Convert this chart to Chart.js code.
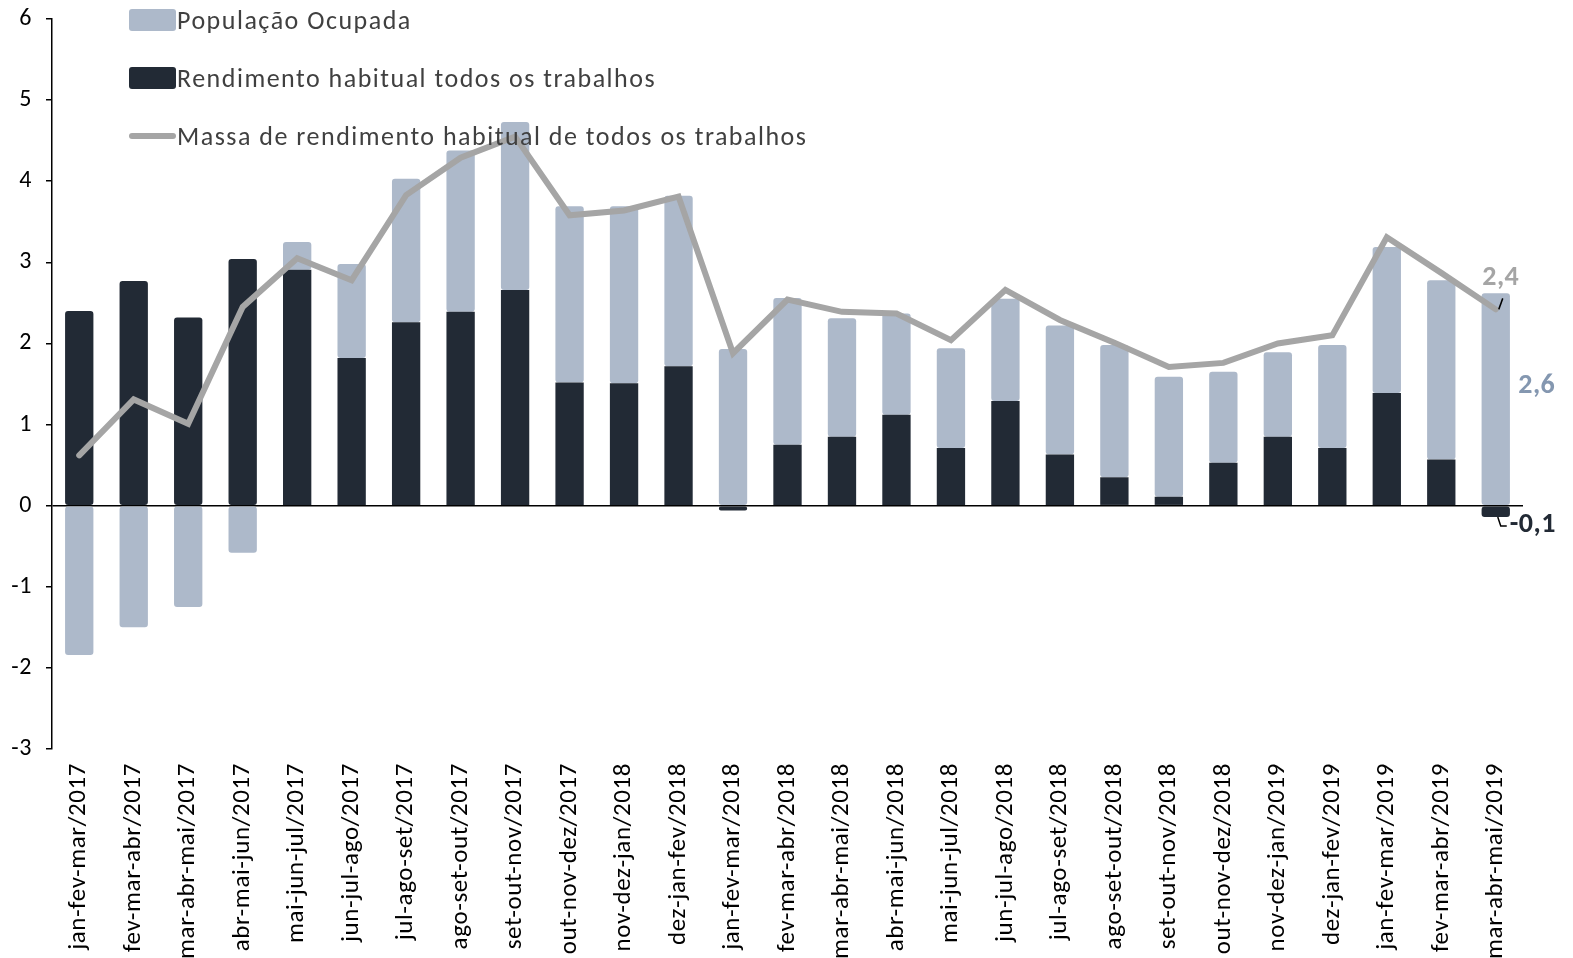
<!DOCTYPE html>
<html lang="pt">
<head>
<meta charset="utf-8">
<title>Massa de rendimento habitual</title>
<script src="https://cdn.jsdelivr.net/npm/chart.js@4/dist/chart.umd.min.js"></script>
<style>
   html, body { margin: 0; padding: 0; background: #fff; }
   #wrap { position: relative; width: 1573px; height: 958px; }
   #legenda { position: absolute; left: 129px; top: 0; font-family: Calibri, Carlito, Lato, sans-serif; font-size: 26px; letter-spacing: 1.5px; color: #404040; }
   .item { position: absolute; left: 0; height: 40px; display: flex; align-items: center; white-space: nowrap; }
   .caixa { width: 47px; height: 22px; border-radius: 3px; margin-right: 1px; }
   .traco { width: 47px; height: 6px; border-radius: 3px; background: #A5A5A5; margin-right: 1px; }
</style>
</head>
<body>
<div id="wrap">
   <canvas id="grafico" width="1573" height="958"></canvas>
   <div id="legenda">
      <div class="item" style="top:0px"><span class="caixa" style="background:#ADB9CA"></span>População Ocupada</div>
      <div class="item" style="top:58px"><span class="caixa" style="background:#222A35"></span>Rendimento habitual todos os trabalhos</div>
      <div class="item" style="top:116px"><span class="traco"></span>Massa de rendimento habitual de todos os trabalhos</div>
   </div>
</div>
<script>
/* -----------------------------------------------------------------------
   dados
   ------------------------------------------------------------------------*/
const categorias = [
   "jan-fev-mar/2017", "fev-mar-abr/2017", "mar-abr-mai/2017", "abr-mai-jun/2017",
   "mai-jun-jul/2017", "jun-jul-ago/2017", "jul-ago-set/2017", "ago-set-out/2017",
   "set-out-nov/2017", "out-nov-dez/2017", "nov-dez-jan/2018", "dez-jan-fev/2018",
   "jan-fev-mar/2018", "fev-mar-abr/2018", "mar-abr-mai/2018", "abr-mai-jun/2018",
   "mai-jun-jul/2018", "jun-jul-ago/2018", "jul-ago-set/2018", "ago-set-out/2018",
   "set-out-nov/2018", "out-nov-dez/2018", "nov-dez-jan/2019", "dez-jan-fev/2019",
   "jan-fev-mar/2019", "fev-mar-abr/2019", "mar-abr-mai/2019"
];
const populacao = [
   -1.84, -1.50, -1.25, -0.58, 0.34, 1.16, 1.77, 1.99, 2.07, 2.17, 2.18, 2.10, 1.93,
   1.81, 1.46, 1.25, 1.23, 1.26, 1.59, 1.63, 1.48, 1.12, 1.04, 1.27, 1.80, 2.21, 2.62
];
const rendimento = [
   2.40, 2.77, 2.32, 3.04, 2.91, 1.82, 2.26, 2.39, 2.66, 1.52, 1.51, 1.72, -0.06,
   0.75, 0.85, 1.12, 0.71, 1.29, 0.63, 0.35, 0.11, 0.53, 0.85, 0.71, 1.39, 0.57, -0.14
];
const massa = [
   0.62, 1.31, 1.01, 2.45, 3.05, 2.78, 3.83, 4.29, 4.55, 3.58, 3.64, 3.81, 1.88,
   2.54, 2.39, 2.37, 2.04, 2.66, 2.29, 2.01, 1.71, 1.76, 2.00, 2.10, 3.31, 2.87, 2.42
];
const ticksY = [-3, -2, -1, 0, 1, 2, 3, 4, 5, 6];

const FONTE = "Calibri, Carlito, Lato, sans-serif";

function fmt(v) {
   return v.toFixed(1).replace('.', ',');
}

/* -----------------------------------------------------------------------
   espaçamento entre letras (como o Excel)
   ------------------------------------------------------------------------*/
const espacamento = {
   id: 'espacamento',
   beforeDraw: function(chart) {
      chart.ctx.letterSpacing = '0.6px';
   }
};

/* -----------------------------------------------------------------------
   rótulos do último período
   ------------------------------------------------------------------------*/
const rotulos = {
   id: 'rotulos',
   afterDatasetsDraw: function(chart) {
      const ctx = chart.ctx;
      const x = chart.scales.x;
      const y = chart.scales.y;
      const i = categorias.length - 1;
      const xc = x.getPixelForValue(i);

      ctx.save();
      ctx.font = "bold 28px " + FONTE;
      ctx.letterSpacing = '0.5px';
      ctx.textAlign = 'center';
      ctx.textBaseline = 'middle';
      ctx.strokeStyle = '#000';
      ctx.lineWidth = 1.5;

      // massa
      const yMassa = y.getPixelForValue(massa[i]);
      ctx.beginPath();
      ctx.moveTo(xc + 3, yMassa);
      ctx.lineTo(xc + 7, yMassa - 11);
      ctx.stroke();
      ctx.fillStyle = '#A5A5A5';
      ctx.fillText(fmt(massa[i]), xc + 5, yMassa - 31);

      // população
      const yPop = y.getPixelForValue(populacao[i]);
      ctx.fillStyle = '#8497B0';
      ctx.fillText(fmt(populacao[i]), xc + 41, yPop + 93);

      // rendimento
      const yRend = y.getPixelForValue(rendimento[i]);
      ctx.beginPath();
      ctx.moveTo(xc + 2, yRend);
      ctx.lineTo(xc + 5, yRend + 9);
      ctx.lineTo(xc + 11, yRend + 9);
      ctx.stroke();
      ctx.fillStyle = '#222A35';
      ctx.textAlign = 'left';
      ctx.fillText(fmt(rendimento[i]), xc + 14, yRend + 8);
      ctx.restore();
   }
};

const grafico = new Chart(document.getElementById('grafico'), {
   type: 'bar',
   data: {
      labels: categorias,
      datasets: [
         {
            type: 'line',
            label: 'Massa de rendimento habitual de todos os trabalhos',
            data: massa,
            borderColor: '#A5A5A5',
            backgroundColor: '#A5A5A5',
            borderWidth: 6,
            borderCapStyle: 'round',
            borderJoinStyle: 'miter',
            pointRadius: 0,
            tension: 0,
            stack: 'massa',
            order: 0
         },
         {
            label: 'Rendimento habitual todos os trabalhos',
            data: rendimento,
            backgroundColor: '#222A35',
            borderRadius: 3,
            borderSkipped: false,
            stack: 'barras',
            order: 1
         },
         {
            label: 'População Ocupada',
            data: populacao,
            backgroundColor: '#ADB9CA',
            borderRadius: 3,
            borderSkipped: false,
            stack: 'barras',
            order: 2
         }
      ]
   },
   options: {
      responsive: false,
      animation: false,
      barPercentage: 0.52,
      categoryPercentage: 1,
      layout: {
         padding: { top: 19, right: 50, left: 0, bottom: 0 }
      },
      scales: {
         x: {
            stacked: true,
            grid: { display: false, drawTicks: false },
            border: { display: false },
            ticks: {
               minRotation: 90,
               maxRotation: 90,
               autoSkip: false,
               padding: 14,
               color: '#000',
               font: { size: 25, family: FONTE }
            },
            afterFit: function(s) { s.height = 209; }
         },
         y: {
            stacked: true,
            min: ticksY[0],
            max: ticksY[ticksY.length - 1],
            afterBuildTicks: function(s) {
               s.ticks = ticksY.map(function(v) { return { value: v }; });
            },
            grid: {
               color: function(c) { return c.tick && c.tick.value === 0 ? '#000' : 'transparent'; },
               tickColor: '#000',
               tickLength: 6,
               lineWidth: 1.5
            },
            border: { color: '#000', width: 1.5 },
            ticks: {
               padding: 14,
               color: '#000',
               font: { size: 24, family: FONTE }
            },
            afterFit: function(s) {
               s.width = 52;
               s.paddingTop = 0;
               s.paddingBottom = 0;
            }
         }
      },
      plugins: {
         legend: { display: false },
         tooltip: { enabled: false }
      }
   },
   plugins: [espacamento, rotulos]
});
</script>
</body>
</html>
